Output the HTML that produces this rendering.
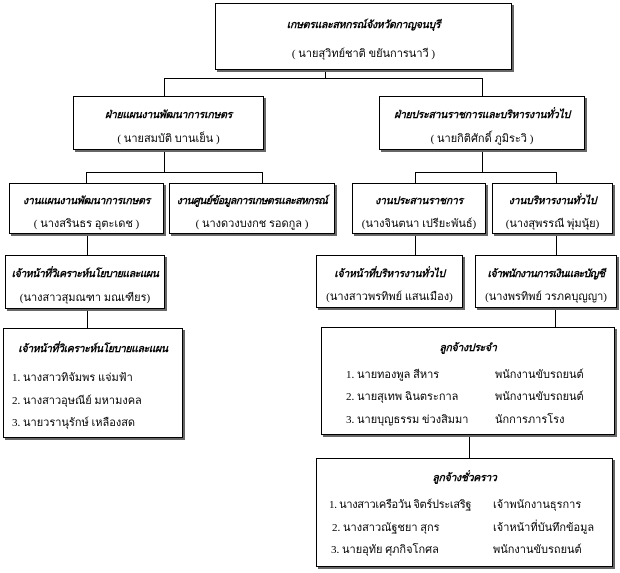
<!DOCTYPE html>
<html><head><meta charset="utf-8"><style>
body{margin:0;width:620px;height:573px;background:#fff;position:relative;overflow:hidden;font-family:"Liberation Serif","DejaVu Sans",serif;color:#000}
.b{position:absolute;border:1px solid #000;background:#fff;box-shadow:2px 2px 0 #666;box-sizing:border-box;font-size:11px;overflow:hidden}
.t{position:absolute;left:0;right:0;text-align:center;font-weight:bold;font-style:italic;white-space:nowrap;font-size:10.5px;letter-spacing:-0.3px}
.n{position:absolute;left:0;right:0;text-align:center;white-space:nowrap}
.l{position:absolute;background:#000}
.i{position:absolute;white-space:nowrap}
</style></head><body>
<div class="l" style="left:325px;top:70px;width:1px;height:9px"></div>
<div class="l" style="left:164px;top:78px;width:319px;height:1px"></div>
<div class="l" style="left:164px;top:78px;width:1px;height:18px"></div>
<div class="l" style="left:482px;top:78px;width:1px;height:18px"></div>
<div class="l" style="left:164px;top:150px;width:1px;height:22px"></div>
<div class="l" style="left:86px;top:172px;width:177px;height:1px"></div>
<div class="l" style="left:86px;top:172px;width:1px;height:11px"></div>
<div class="l" style="left:262px;top:172px;width:1px;height:11px"></div>
<div class="l" style="left:482px;top:150px;width:1px;height:22px"></div>
<div class="l" style="left:415px;top:172px;width:142px;height:1px"></div>
<div class="l" style="left:415px;top:172px;width:1px;height:11px"></div>
<div class="l" style="left:556px;top:172px;width:1px;height:11px"></div>
<div class="l" style="left:87px;top:233px;width:1px;height:22px"></div>
<div class="l" style="left:415px;top:233px;width:1px;height:22px"></div>
<div class="l" style="left:556px;top:233px;width:1px;height:22px"></div>
<div class="l" style="left:87px;top:308px;width:1px;height:20px"></div>
<div class="l" style="left:555px;top:308px;width:1px;height:19px"></div>
<div class="l" style="left:469px;top:435px;width:1px;height:23px"></div>

<div class="b" style="left:215px;top:3px;width:297px;height:67px"><div class="t" style="top:12px">เกษตรและสหกรณ์จังหวัดกาญจนบุรี</div><div class="n" style="top:40px">( นายสุวิทย์ชาติ ขยันการนาวี )</div></div>

<div class="b" style="left:73px;top:96px;width:191px;height:54px"><div class="t" style="top:9px">ฝ่ายแผนงานพัฒนาการเกษตร</div><div class="n" style="top:32px">( นายสมบัติ บานเย็น )</div></div>
<div class="b" style="left:379px;top:96px;width:206px;height:54px"><div class="t" style="top:9px">ฝ่ายประสานราชการและบริหารงานทั่วไป</div><div class="n" style="top:32px">( นายกิติศักดิ์ ภูมิระวิ )</div></div>

<div class="b" style="left:9px;top:183px;width:155px;height:51px"><div class="t" style="top:8px">งานแผนงานพัฒนาการเกษตร</div><div class="n" style="top:30px">( นางสรินธร อุตะเดช )</div></div>
<div class="b" style="left:169px;top:183px;width:166px;height:51px"><div class="t" style="top:8px;letter-spacing:-0.6px">งานศูนย์ข้อมูลการเกษตรและสหกรณ์</div><div class="n" style="top:30px">( นางดวงบงกช รอดกูล )</div></div>
<div class="b" style="left:352px;top:183px;width:134px;height:51px"><div class="t" style="top:8px">งานประสานราชการ</div><div class="n" style="top:30px">(นางจินตนา เปรียะพันธ์)</div></div>
<div class="b" style="left:492px;top:183px;width:121px;height:51px"><div class="t" style="top:8px">งานบริหารงานทั่วไป</div><div class="n" style="top:30px">(นางสุพรรณี พุ่มนุ้ย)</div></div>

<div class="b" style="left:5px;top:255px;width:160px;height:54px"><div class="t" style="top:9px;letter-spacing:-0.5px">เจ้าหน้าที่วิเคราะห์นโยบายและแผน</div><div class="n" style="top:32px">(นางสาวสุมณฑา มณเฑียร)</div></div>
<div class="b" style="left:316px;top:255px;width:147px;height:53px"><div class="t" style="top:9px">เจ้าหน้าที่บริหารงานทั่วไป</div><div class="n" style="top:31px">(นางสาวพรทิพย์ แสนเมือง)</div></div>
<div class="b" style="left:475px;top:255px;width:142px;height:53px"><div class="t" style="top:9px;letter-spacing:-0.6px">เจ้าพนักงานการเงินและบัญชี</div><div class="n" style="top:31px">(นางพรทิพย์ วรภคบุญญา)</div></div>

<div class="b" style="left:3px;top:328px;width:180px;height:110px"><div class="t" style="top:11px;letter-spacing:-0.4px">เจ้าหน้าที่วิเคราะห์นโยบายและแผน</div>
<div class="i" style="left:8px;top:39px">1. นางสาวทิจัมพร แจ่มฟ้า</div>
<div class="i" style="left:8px;top:62px">2. นางสาวอุษณีย์ มหามงคล</div>
<div class="i" style="left:8px;top:84px">3. นายวรานุรักษ์ เหลืองสด</div></div>

<div class="b" style="left:321px;top:327px;width:294px;height:108px"><div class="t" style="top:11px">ลูกจ้างประจำ</div>
<div class="i" style="left:24px;top:37px">1. นายทองพูล สีหาร</div><div class="i" style="left:173px;top:37px">พนักงานขับรถยนต์</div>
<div class="i" style="left:24px;top:59px">2. นายสุเทพ ฉินตระกาล</div><div class="i" style="left:173px;top:59px">พนักงานขับรถยนต์</div>
<div class="i" style="left:24px;top:82px">3. นายบุญธรรม ข่วงสิมมา</div><div class="i" style="left:173px;top:82px">นักการภารโรง</div></div>

<div class="b" style="left:316px;top:458px;width:297px;height:109px"><div class="t" style="top:10px">ลูกจ้างชั่วคราว</div>
<div class="i" style="left:12px;top:36px;letter-spacing:-0.3px">1. นางสาวเครือวัน จิตร์ประเสริฐ</div><div class="i" style="left:176px;top:36px">เจ้าพนักงานธุรการ</div>
<div class="i" style="left:15px;top:59px">2. นางสาวณัฐชยา สุกร</div><div class="i" style="left:176px;top:59px">เจ้าหน้าที่บันทึกข้อมูล</div>
<div class="i" style="left:14px;top:81px">3. นายอุทัย ศุภกิจโกศล</div><div class="i" style="left:176px;top:81px">พนักงานขับรถยนต์</div></div>
</body></html>
